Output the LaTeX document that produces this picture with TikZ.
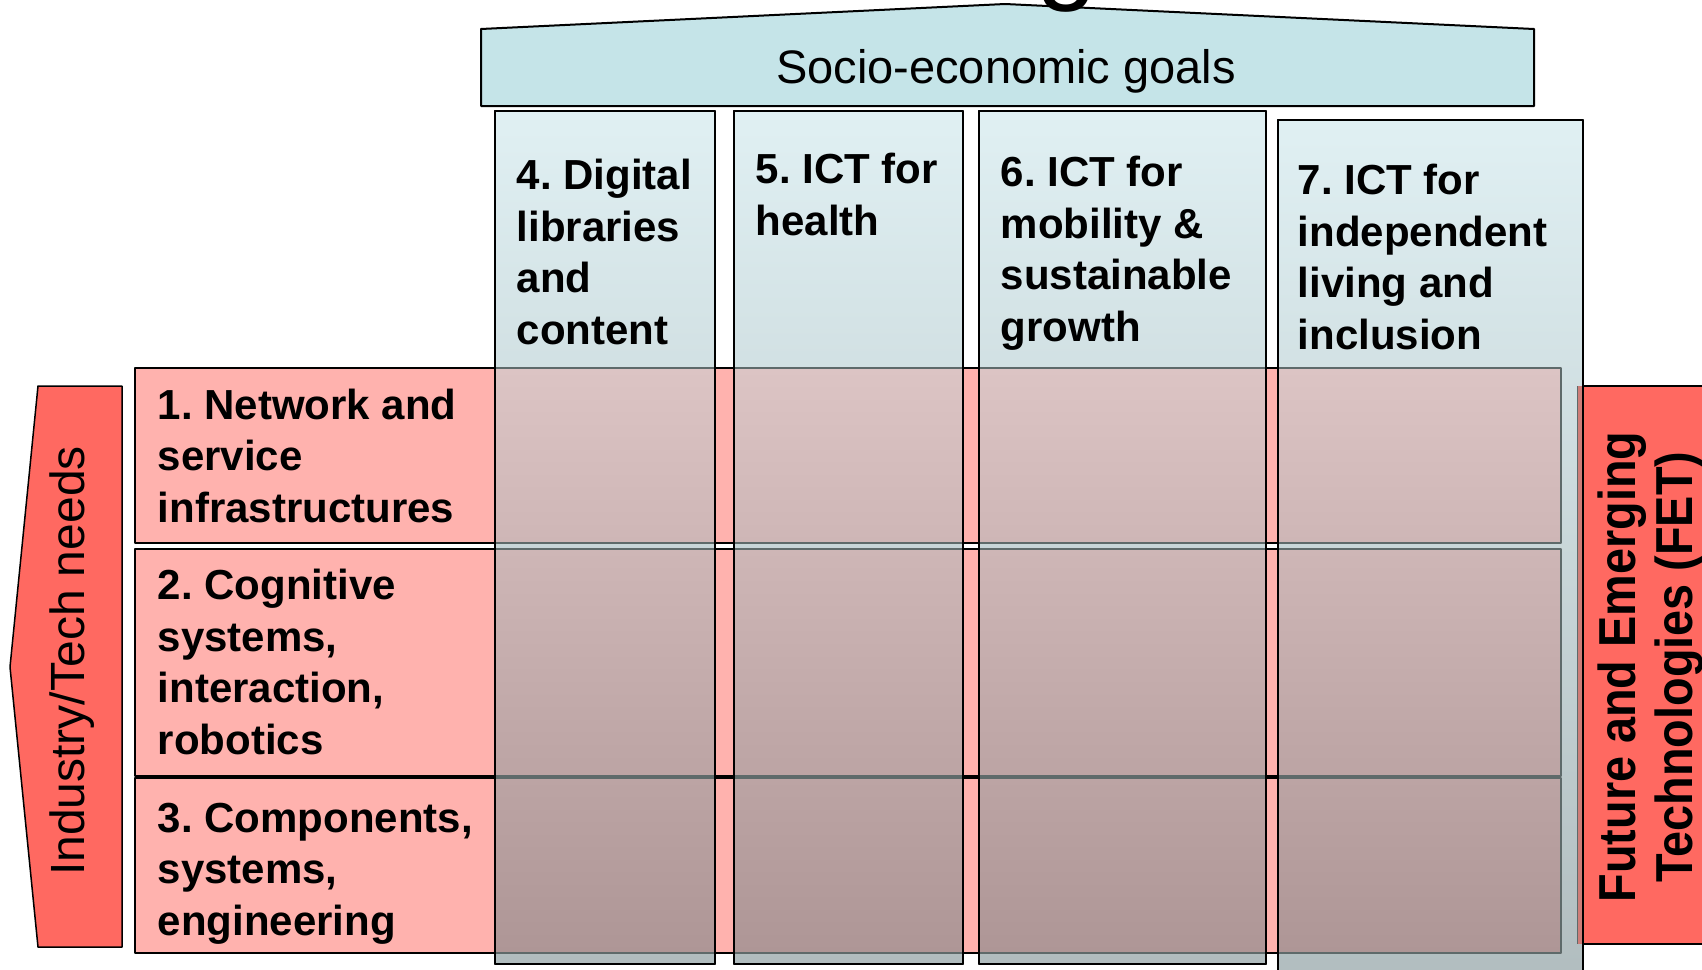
\documentclass[tikz,border=0pt]{standalone}
\usepackage{fontspec}
\usepackage{graphicx}
\setmainfont{Liberation Sans}
\frenchspacing
\definecolor{goalblue}{RGB}{197,228,232}
\definecolor{coltop}{RGB}{224,240,243}
\definecolor{colbot}{RGB}{176,188,190}
\definecolor{rowpink}{RGB}{255,178,174}
\definecolor{techred}{RGB}{255,105,97}
\definecolor{fetedge}{RGB}{205,125,120}
\definecolor{cellA}{RGB}{220,196,196}
\definecolor{cellB}{RGB}{206,182,182}
\definecolor{cellC}{RGB}{188,164,164}
\definecolor{cellD}{RGB}{174,150,150}
\definecolor{cellline}{RGB}{94,106,106}
\begin{document}
\begin{tikzpicture}[x=1pt, y=-1pt, line join=round, line width=1.5pt,
	rowbox/.style={draw=black, fill=rowpink},
	colbox/.style={draw=black, top color=coltop, bottom color=colbot},
	celltop/.style={draw=cellline, line width=1.2pt, top color=cellA, bottom color=cellB},
	cellmid/.style={draw=cellline, line width=1.2pt, top color=cellB, bottom color=cellC},
	cellbot/.style={draw=cellline, line width=1.2pt, top color=cellC, bottom color=cellD},
	lbl/.style={font=\fontsize{42}{51.5}\selectfont\bfseries, align=left, inner sep=0pt, anchor=base west},
	sidelbl/.style={rotate=90, inner sep=0pt, anchor=base}]
		\useasboundingbox (0,0) rectangle (1702,969);
		\clip (0,0) rectangle (1702,969);
		\draw[fill=goalblue, line width=2pt] (481,29)--(1005,4)--(1534,29)--(1534,106)--(481,106)--cycle;
		\node[anchor=base, inner sep=0pt, font=\fontsize{110}{110}\selectfont] (gtail) at (1067,-10) {g};
		\node[anchor=base, inner sep=0pt, font=\fontsize{47}{50}\selectfont] (goals) at (1006,83) {Socio-economic goals};
		\draw[rowbox] (135,368) rectangle (1570,543);
		\draw[rowbox] (135,549) rectangle (1570,776);
		\draw[rowbox] (135,778) rectangle (1570,953);
		\draw[colbox] (495,111) rectangle (715,964);
		\draw[colbox] (734,111) rectangle (963,964);
		\draw[colbox] (979,111) rectangle (1266,964);
		\draw[colbox] (1278,120) rectangle (1583,1000);
		\draw[celltop] (495,368) rectangle (715,543);
		\draw[celltop] (734,368) rectangle (963,543);
		\draw[celltop] (979,368) rectangle (1266,543);
		\draw[celltop] (1278,368) rectangle (1561,543);
		\draw[cellmid] (495,549) rectangle (715,776);
		\draw[cellmid] (734,549) rectangle (963,776);
		\draw[cellmid] (979,549) rectangle (1266,776);
		\draw[cellmid] (1278,549) rectangle (1561,776);
		\draw[cellbot] (495,778) rectangle (715,953);
		\draw[cellbot] (734,778) rectangle (963,953);
		\draw[cellbot] (979,778) rectangle (1266,953);
		\draw[cellbot] (1278,778) rectangle (1561,953);
		\draw (495,111) rectangle (715,964) (734,111) rectangle (963,964) (979,111) rectangle (1266,964) (1278,120) rectangle (1583,1000);
		\draw[fill=techred] (1583,386) rectangle (1720,944);
		\fill[fetedge] (1577,386) rectangle (1583,944);
		\draw[cellline, line width=1pt] (1577,386)--(1577,944);
		\draw (1583,386)--(1583,969);
		\draw[fill=techred] (38,386)--(122,386)--(122,947)--(38,947)--(10,667)--cycle;
		\node[sidelbl, font=\fontsize{48}{50}\selectfont] (needs) at (84,661) {Industry/Tech needs};
		\node[sidelbl, font=\fontsize{52}{55}\selectfont\bfseries] (fetA) at (1635,667) {\scalebox{0.9}[1]{Future and Emerging}};
		\node[sidelbl, font=\fontsize{52}{55}\selectfont\bfseries] (fetB) at (1692,667) {\scalebox{0.9}[1]{Technologies (FET)}};
		\node[lbl] (net) at (157,522) {1. Network and\\service\\infrastructures};
		\node[lbl] (cog) at (157,754) {2. Cognitive\\systems,\\interaction,\\robotics};
		\node[lbl] (comp) at (157,935) {3. Components,\\systems,\\engineering};
		\node[lbl] (dig) at (516,344) {4. Digital\\libraries\\and\\content};
		\node[lbl] (health) at (755,235) {5. ICT for\\health};
		\node[lbl] (mob) at (1000,341) {6. ICT for\\mobility \&\\sustainable\\growth};
		\node[lbl] (indep) at (1297,349) {7. ICT for\\independent\\living and\\inclusion};
	\end{tikzpicture}
\end{document}
